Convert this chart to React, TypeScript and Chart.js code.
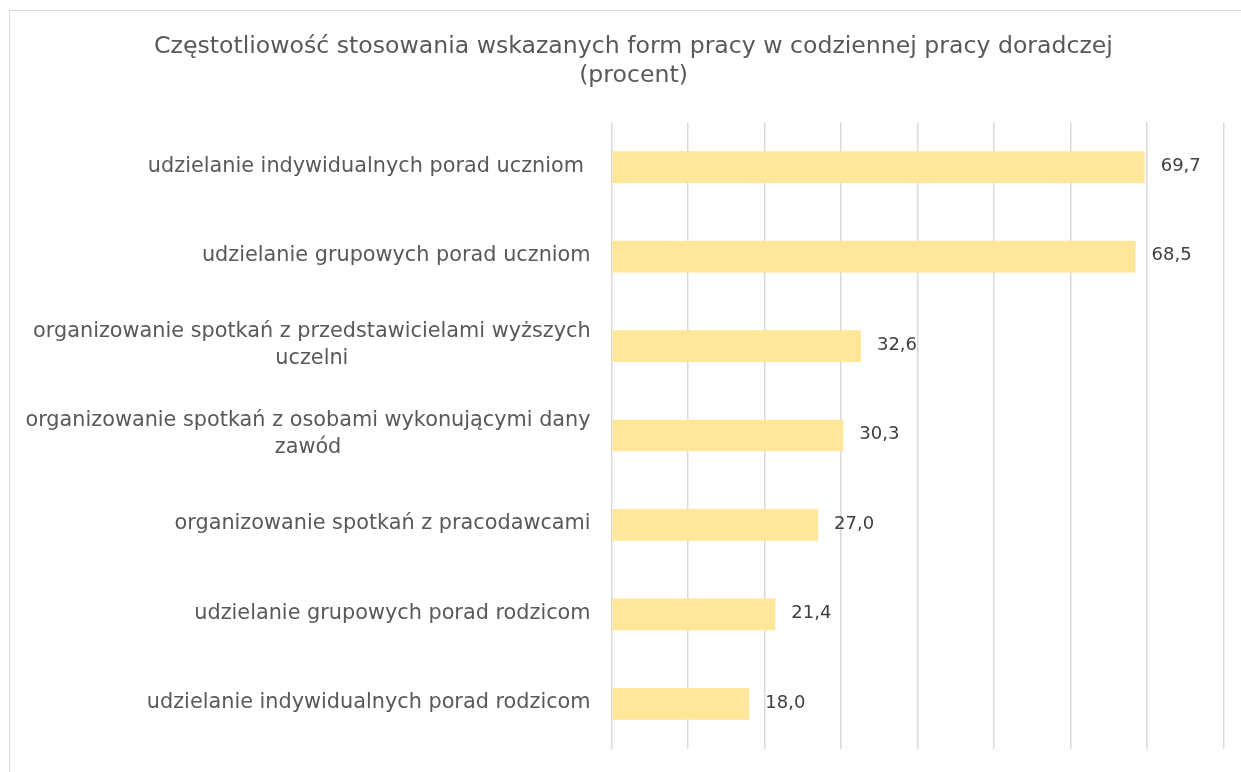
import React, { useEffect, useRef } from "react";
import { Chart, registerables } from "chart.js";

Chart.register(...registerables);

const TITLE_LINES: string[] = [
  "Częstotliowość stosowania wskazanych form pracy w codziennej pracy doradczej",
  "(procent)",
];

const CATEGORIES: string[][] = [
  ["udzielanie indywidualnych porad uczniom "],
  ["udzielanie grupowych porad uczniom"],
  ["organizowanie spotkań z przedstawicielami wyższych", "uczelni"],
  ["organizowanie spotkań z osobami wykonującymi dany", "zawód"],
  ["organizowanie spotkań z pracodawcami"],
  ["udzielanie grupowych porad rodzicom"],
  ["udzielanie indywidualnych porad rodzicom"],
];

const VALUES: number[] = [69.7, 68.5, 32.6, 30.3, 27.0, 21.4, 18.0];

const X_MIN = 0;
const X_MAX = 80;
const X_STEP = 10;

const FONT = "'DejaVu Sans', sans-serif";
const W = 1247;
const H = 790;

const textPlugin = {
  id: "textPlugin",
  afterDraw(chart: any) {
    const ctx = chart.ctx as CanvasRenderingContext2D;
    const area = chart.chartArea;
    const xs = chart.scales.x;
    const ys = chart.scales.y;
    ctx.save();

    // title
    ctx.fillStyle = "#595959";
    ctx.font = `23.6px ${FONT}`;
    ctx.textAlign = "center";
    ctx.textBaseline = "middle";
    TITLE_LINES.forEach((line, i) => {
      ctx.fillText(line, chart.width / 2, 36 + i * 29);
    });

    // category labels
    ctx.font = `20.8px ${FONT}`;
    ctx.fillStyle = "#595959";
    const lh = 27;
    CATEGORIES.forEach((lines, i) => {
      const yc = ys.getPixelForValue(i) - 1;
      const widest = Math.max(...lines.map((l) => ctx.measureText(l).width));
      const right = area.left - 21;
      const cx = right - widest / 2;
      lines.forEach((l, j) => {
        const y = yc + (j - (lines.length - 1) / 2) * lh;
        ctx.textAlign = "center";
        ctx.fillText(l, cx, y);
      });
    });

    // value labels
    ctx.font = `18px ${FONT}`;
    ctx.fillStyle = "#404040";
    ctx.textAlign = "left";
    VALUES.forEach((v, i) => {
      const x = xs.getPixelForValue(v) + 16;
      const y = ys.getPixelForValue(i) - 1;
      ctx.fillText(v.toFixed(1).replace(".", ","), x, y);
    });

    ctx.restore();
  },
};

export default function App() {
  const ref = useRef<HTMLCanvasElement | null>(null);

  useEffect(() => {
    if (!ref.current) return;
    const chart = new Chart(ref.current, {
      type: "bar",
      data: {
        labels: CATEGORIES.map((c) => c.join(" ")),
        datasets: [
          {
            data: VALUES,
            backgroundColor: "#FFE699",
            borderWidth: 0,
            barPercentage: 0.354,
            categoryPercentage: 1,
          },
        ],
      },
      options: {
        indexAxis: "y",
        responsive: false,
        animation: false,
        layout: {
          padding: { left: 601.6, right: 33.5, top: 111.4, bottom: 52.4 },
        },
        plugins: {
          legend: { display: false },
          title: { display: false },
          tooltip: { enabled: false },
        },
        scales: {
          x: {
            min: X_MIN,
            max: X_MAX,
            ticks: { display: false, stepSize: X_STEP },
            grid: { color: "#D9D9D9", lineWidth: 1.5, drawTicks: false },
            border: { display: false },
            afterFit: (s: any) => {
              s.height = 0;
            },
          },
          y: {
            display: false,
          },
        },
      },
      plugins: [textPlugin],
    } as any);
    return () => chart.destroy();
  }, []);

  return (
    <div style={{ position: "fixed", left: 0, top: 0, width: "100vw", height: "100vh", overflow: "hidden", background: "#fff" }}>
      <div
        style={{
          position: "absolute",
          left: 9,
          top: 10,
          border: "1px solid #D9D9D9",
          width: W,
          height: H,
          background: "#fff",
        }}
      >
        <canvas ref={ref} width={W} height={H} style={{ display: "block", width: W, height: H }} />
      </div>
    </div>
  );
}
